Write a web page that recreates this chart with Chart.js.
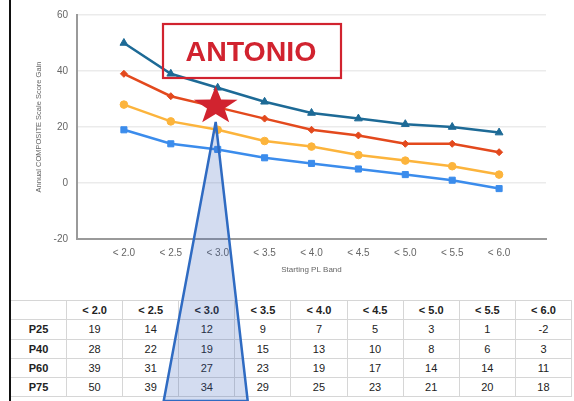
<!DOCTYPE html>
<html><head><meta charset="utf-8">
<script src="https://cdn.jsdelivr.net/npm/chart.js@4"></script>
<style>
html,body{margin:0;padding:0;background:#fff;width:574px;height:401px;overflow:hidden;position:relative;font-family:"Liberation Sans",Arial,sans-serif}
#wrap{position:absolute;left:0;top:0;width:574px;height:300px}
#leftline{position:absolute;left:9px;top:0;width:2px;height:401px;background:#111;z-index:3}
table{position:absolute;left:10px;top:300px;border-collapse:collapse;table-layout:fixed;width:562px;z-index:1}
td,th{border:1.5px solid #d6d6d6;height:18.3px;padding:0;text-align:center;font-size:11px;color:#222;line-height:18px}
th{font-weight:bold}
td.lab{font-weight:bold}
svg{position:absolute;left:0;top:0;z-index:2}
</style>
</head><body>
<div id="wrap"><canvas id="c" width="574" height="300"></canvas></div>
<table id="tbl"></table>
<svg id="ov" width="574" height="401">
  <polygon id="tri" points="0,0 0,0 0,0" fill="rgba(55,95,185,0.22)" stroke="#2f6bc2" stroke-width="2.5" stroke-linejoin="miter"/>
  <rect x="163" y="24" width="178" height="54" fill="none" stroke="#d1232f" stroke-width="2.2"/>
  <text x="251" y="61" text-anchor="middle" font-family="Liberation Sans, Arial, sans-serif" font-weight="bold" font-size="28.5" fill="#d1232f">ANTONIO</text>
  <polygon id="star" points="0,0" fill="#d1232f"/>
</svg>
<div id="leftline"></div>
<script>
const categories = ['< 2.0','< 2.5','< 3.0','< 3.5','< 4.0','< 4.5','< 5.0','< 5.5','< 6.0'];
const seriesNames = ['P25','P40','P60','P75'];
const p25 = [19,14,12,9,7,5,3,1,-2];
const p40 = [28,22,19,15,13,10,8,6,3];
const p60 = [39,31,27,23,19,17,14,14,11];
const p75 = [50,39,34,29,25,23,21,20,18];
const yTicks = [-20,0,20,40,60];
const starCategory = 2;   // '< 3.0'
const starValue = 27.5;

// table
const tbl = document.getElementById('tbl');
let html = '<colgroup><col style="width:56px">' + categories.map(()=>'<col>').join('') + '</colgroup>';
html += '<tr><th></th>' + categories.map(c=>'<th>'+c.replace('<','&lt;')+'</th>').join('') + '</tr>';
[p25,p40,p60,p75].forEach((arr,i)=>{
  html += '<tr><td class="lab">'+seriesNames[i]+'</td>' + arr.map(v=>'<td>'+v+'</td>').join('') + '</tr>';
});
tbl.innerHTML = html;

const toXY = arr => arr.map((v,i)=>({x:i,y:v}));
const mk = (label,data,color,style,r)=>({
  label, data:toXY(data), borderColor:color, backgroundColor:color,
  pointBackgroundColor:color, pointBorderColor:color, pointStyle:style,
  pointRadius:r, pointBorderWidth:1, borderWidth:2.5, tension:0, fill:false
});

const overlay = {
  id:'overlay',
  afterRender(chart){
    const cx = chart.scales.x.getPixelForValue(starCategory) - 2;
    const cy = chart.scales.y.getPixelForValue(starValue);
    const R = 23, r = 9.2, sy = 0.87;
    const pts = [];
    for(let k=0;k<10;k++){
      const a = -Math.PI/2 + k*Math.PI/5;
      const rr = k%2===0 ? R : r;
      pts.push((cx+rr*Math.cos(a)).toFixed(1)+','+(cy+rr*Math.sin(a)*sy).toFixed(1));
    }
    document.getElementById('star').setAttribute('points', pts.join(' '));
    const ay = cy + 16;
    document.getElementById('tri').setAttribute('points',
      `${cx},${ay} ${cx-52},401 ${cx+32},401`);
  }
};

new Chart(document.getElementById('c'), {
  type:'line',
  data:{datasets:[
    mk('P75',p75,'#1d6a96','triangle',4.5),
    mk('P60',p60,'#e3491d','rectRot',3.5),
    mk('P40',p40,'#fcb43c','circle',3.8),
    mk('P25',p25,'#3b8cec','rect',4.3)
  ]},
  options:{
    responsive:false, animation:false, devicePixelRatio:1,
    layout:{padding:{left:30,right:28,top:15,bottom:0}},
    plugins:{legend:{display:false},tooltip:{enabled:false}},
    scales:{
      x:{type:'linear',min:-1,max:9,
        afterFit(s){s.height=61;},
        afterBuildTicks(s){s.ticks = categories.map((c,i)=>({value:i}));},
        ticks:{stepSize:1,autoSkip:false,maxRotation:0,padding:0,color:'#666',
          font:{family:'Liberation Sans, Arial',size:10},
          callback:(v)=>categories[v]!==undefined?categories[v]:''},
        grid:{display:false},
        border:{display:true,color:'#9a9a9a',width:2},
        title:{display:true,text:'Starting PL Band',color:'#666',
          font:{family:'Liberation Sans, Arial',size:8},padding:{top:4,bottom:25}}
      },
      y:{min:-20,max:60,
        afterFit(s){s.width=47;},
        afterBuildTicks(s){s.ticks = yTicks.map(v=>({value:v}));},
        ticks:{stepSize:20,padding:9,color:'#666',font:{family:'Liberation Sans, Arial',size:10}},
        grid:{color:'#ebebeb',lineWidth:1.5,drawTicks:false},
        border:{display:true,color:'#9a9a9a',width:2},
        title:{display:true,text:'Annual COMPOSITE Scale Score Gain',color:'#666',
          font:{family:'Liberation Sans, Arial',size:7.5},padding:{top:4,bottom:0}}
      }
    }
  },
  plugins:[overlay]
});
</script>
</body></html>
